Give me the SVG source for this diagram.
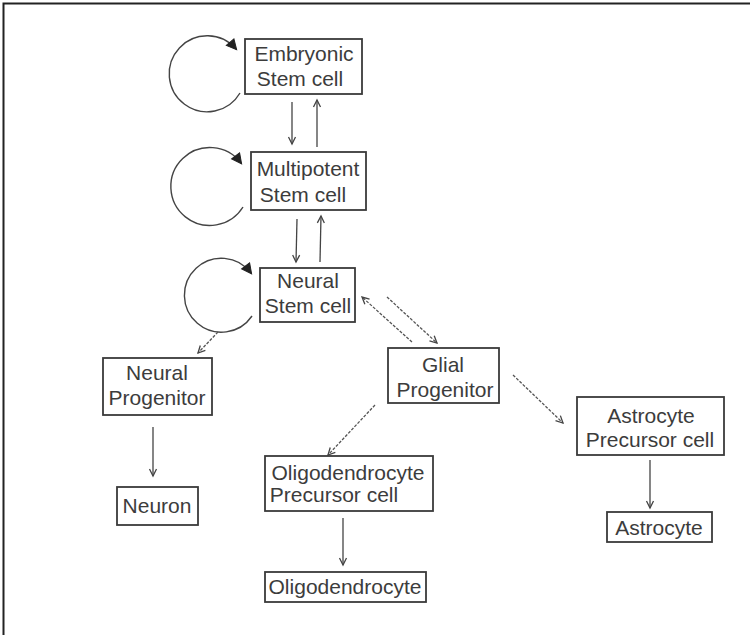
<svg xmlns="http://www.w3.org/2000/svg" width="750" height="635" viewBox="0 0 750 635">
<style>
.box{fill:#fff;stroke:#3a3a3a;stroke-width:1.8}
.t{font-family:"Liberation Sans",Arial,sans-serif;font-size:21px;fill:#3c3c3c;text-anchor:middle}
.ln{fill:none;stroke:#444;stroke-width:1.3}
.dash{fill:none;stroke:#555;stroke-width:1.3;stroke-dasharray:3,1.5}
.loop{fill:none;stroke:#444;stroke-width:1.4}
</style>
<defs>
<marker id="open" markerUnits="userSpaceOnUse" markerWidth="12" markerHeight="12" viewBox="-9 -6 12 12" refX="0" refY="0" orient="auto">
<path d="M -7,-3.5 L 0,0 L -7,3.5" fill="none" stroke="#444" stroke-width="1.3"/>
</marker>
<marker id="solid" markerUnits="userSpaceOnUse" markerWidth="14" markerHeight="14" viewBox="-10 -7 14 14" refX="0" refY="0" orient="auto">
<path d="M -9,-5 L 1,0 L -9,5 Z" fill="#222" stroke="#222" stroke-width="1"/>
</marker>
</defs>
<rect width="750" height="635" fill="#fff"/>
<path d="M 3.5,635 L 3.5,3.5 L 750,3.5" fill="none" stroke="#222" stroke-width="2"/>

<g id="connectors">
<path class="loop" d="M 240,93 A 38,38 0 1,1 236,49" marker-end="url(#solid)"/>
<path class="loop" d="M 243,207 A 39,39 0 1,1 241,163" marker-end="url(#solid)"/>
<path class="loop" d="M 252,316 A 37,37 0 1,1 251,273" marker-end="url(#solid)"/>
<path class="ln" d="M 292,102 L 292,144" marker-end="url(#open)"/>
<path class="ln" d="M 317,147 L 317,100" marker-end="url(#open)"/>
<path class="ln" d="M 297,219 L 296,262" marker-end="url(#open)"/>
<path class="ln" d="M 320,262 L 321,216" marker-end="url(#open)"/>
<path class="dash" d="M 218,332 L 198,353" marker-end="url(#open)"/>
<path class="dash" d="M 412,342 L 362,297" marker-end="url(#open)"/>
<path class="dash" d="M 387,297 L 437,343" marker-end="url(#open)"/>
<path class="ln" d="M 153,427 L 153,476" marker-end="url(#open)"/>
<path class="dash" d="M 375,405 L 328,455" marker-end="url(#open)"/>
<path class="dash" d="M 513,375 L 563,423" marker-end="url(#open)"/>
<path class="ln" d="M 343,518 L 343,565" marker-end="url(#open)"/>
<path class="ln" d="M 650,460 L 650,508" marker-end="url(#open)"/>
</g>

<g id="embryonic">
<rect class="box" x="245" y="39" width="117" height="55"/>
<text class="t" x="304" y="61">Embryonic</text>
<text class="t" x="300" y="86">Stem cell</text>
</g>
<g id="multipotent">
<rect class="box" x="251" y="152" width="115" height="58"/>
<text class="t" x="308" y="176">Multipotent</text>
<text class="t" x="303" y="202">Stem cell</text>
</g>
<g id="neural-stem">
<rect class="box" x="260" y="268" width="95" height="54"/>
<text class="t" x="308" y="288">Neural</text>
<text class="t" x="308" y="313">Stem cell</text>
</g>
<g id="neural-progenitor">
<rect class="box" x="103" y="358" width="109" height="57"/>
<text class="t" x="157" y="380">Neural</text>
<text class="t" x="157" y="405">Progenitor</text>
</g>
<g id="glial-progenitor">
<rect class="box" x="388" y="348" width="111" height="55"/>
<text class="t" x="443" y="372">Glial</text>
<text class="t" x="445" y="397">Progenitor</text>
</g>
<g id="neuron">
<rect class="box" x="117" y="487" width="81" height="38"/>
<text class="t" x="157" y="513">Neuron</text>
</g>
<g id="opc">
<rect class="box" x="265" y="456" width="168" height="55"/>
<text class="t" x="348" y="480">Oligodendrocyte</text>
<text class="t" x="334" y="502">Precursor cell</text>
</g>
<g id="astro-precursor">
<rect class="box" x="577" y="397" width="147" height="58"/>
<text class="t" x="651" y="423">Astrocyte</text>
<text class="t" x="650" y="447">Precursor cell</text>
</g>
<g id="oligodendrocyte">
<rect class="box" x="265" y="572" width="161" height="30"/>
<text class="t" x="345" y="594">Oligodendrocyte</text>
</g>
<g id="astrocyte">
<rect class="box" x="607" y="512" width="105" height="30"/>
<text class="t" x="659" y="535">Astrocyte</text>
</g>
</svg>
